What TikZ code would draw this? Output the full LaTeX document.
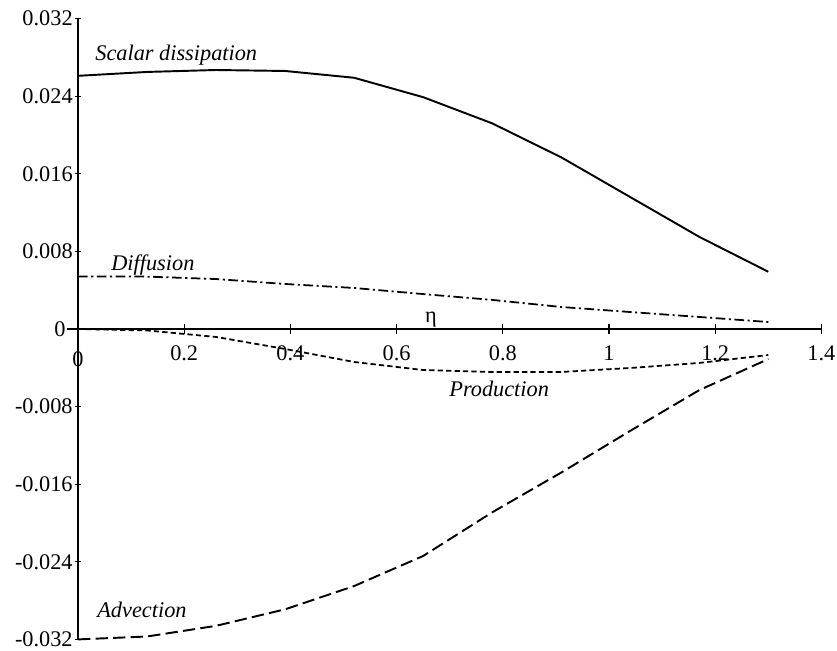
\documentclass[tikz,border=0pt]{standalone}
\usepackage{fontspec}
\setmainfont{Liberation Serif}

\begin{document}
\begin{tikzpicture}[x=10.62cm,y=0.194cm,
        font=\fontsize{12.7}{15}\selectfont,
        every node/.style={inner sep=0pt},
        axisline/.style={line width=0.7pt},
        curvelabel/.style={anchor=west,font=\fontsize{12.7}{15}\selectfont\itshape},
        dissip/.style={line width=1.1pt},
        diffus/.style={line width=1pt,dash pattern=on 5.5pt off 2pt on 1.2pt off 2pt},
        produc/.style={line width=1pt,dash pattern=on 3pt off 1.8pt},
        advect/.style={line width=1.1pt,dash pattern=on 7pt off 3pt}]
            \useasboundingbox (-0.14689,-33.196) rectangle (1.42938,33.918);
            % axes
            \draw[axisline] (0,-32) -- (0,32);
            \draw[axisline] (-0.0207,0) -- (1.4,0);
            \foreach \y/\lab [count=\i] in {32/0.032,24/0.024,16/0.016,8/0.008,-8/-0.008,-16/-0.016,-24/-0.024,-32/-0.032}{
                \draw[axisline] (-0.0057,\y) -- (0.0057,\y);
                \node[anchor=east] (ylab\i) at (-0.0094,\y) {\lab};
            }
            \node[anchor=east] (ylab0) at (-0.0226,0) {0};
            \foreach \x [count=\i] in {0.2,0.4,0.6,0.8,1,1.2,1.4}{
                \draw[axisline] (\x,-0.52) -- (\x,0.52);
                \node (xlab\i) at (\x,-2.5) {\x};
            }
            \node (xlab0) at (0,-3.1) {0};
            \node (etalab) at (0.6648,0.93) {η};
            % curves
            \draw[dissip] (0,26.1) -- (0.13,26.5) -- (0.26,26.7) -- (0.39,26.6) -- (0.52,25.9) -- (0.65,23.9)
                -- (0.78,21.2) -- (0.91,17.7) -- (1.04,13.6) -- (1.17,9.5) -- (1.3,5.9);
            \draw[diffus] (0,5.4) -- (0.13,5.4) -- (0.26,5.15) -- (0.39,4.64) -- (0.52,4.23) -- (0.65,3.6)
                -- (0.78,3.0) -- (0.91,2.27) -- (1.04,1.75) -- (1.17,1.24) -- (1.3,0.72);
            \draw[produc] (0,0) -- (0.13,-0.15) -- (0.26,-0.82) -- (0.39,-2.06) -- (0.52,-3.4) -- (0.65,-4.23)
                -- (0.78,-4.43) -- (0.91,-4.43) -- (1.04,-4.02) -- (1.17,-3.5) -- (1.3,-2.68);
            \draw[advect] (0,-32) -- (0.13,-31.7) -- (0.26,-30.6) -- (0.39,-28.9) -- (0.52,-26.5) -- (0.65,-23.4)
                -- (0.78,-18.9) -- (0.91,-14.8) -- (1.04,-10.5) -- (1.17,-6.3) -- (1.3,-3.1);
            % labels
            \node[curvelabel] (dissiplab) at (0.032,28.25) {Scalar dissipation};
            \node[curvelabel] (diffuslab) at (0.0621,6.6) {Diffusion};
            \node[curvelabel] (produclab) at (0.6987,-6.19) {Production};
            \node[curvelabel] (advectlab) at (0.0358,-28.97) {Advection};
        \end{tikzpicture}
\end{document}
